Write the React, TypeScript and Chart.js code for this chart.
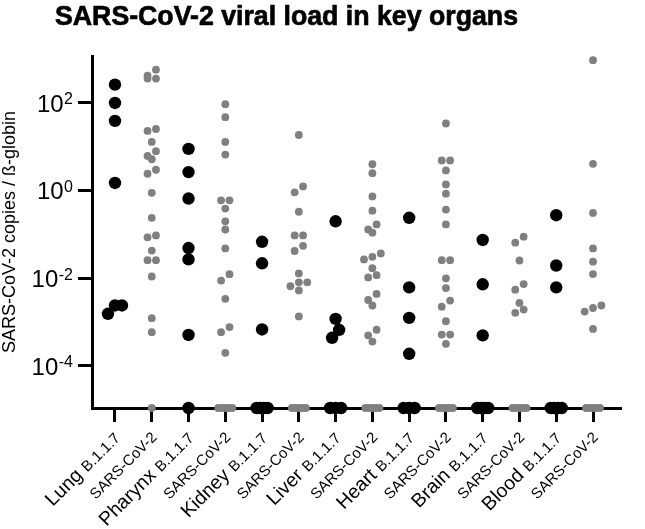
import React, { useEffect, useRef } from 'react';
import { Chart, registerables } from 'chart.js';

Chart.register(...registerables);

const chartTitle = 'SARS-CoV-2 viral load in key organs';
const yAxisTitle = 'SARS-CoV-2 copies / ß-globin';
const organs = ['Lung', 'Pharynx', 'Kidney', 'Liver', 'Heart', 'Brain', 'Blood'];
const variantName = 'B.1.1.7';
const wildTypeName = 'SARS-CoV-2';
const yTickValues = [1e-4, 1e-2, 1, 1e2];
const yMin = 1.1e-5;
const yMax = 1.18e3;
const belowDetection = 1.1e-5;

// B.1.1.7 (black) detected values per organ
const lungB117 = [263, 100, 39, 1.5, 0.0024, 0.0024, 0.00155];
const pharynxB117 = [8.96, 2.65, 0.66, 0.049, 0.027, 0.00051];
const kidneyB117 = [0.068, 0.022, 0.00068];
const liverB117 = [0.2, 0.00119, 0.00067, 0.00044];
const heartB117 = [0.24, 0.0062, 0.00125, 0.00019];
const brainB117 = [0.075, 0.0073, 0.0005];
const bloodB117 = [0.275, 0.0196, 0.0062];

// SARS-CoV-2 (grey) detected values per organ
const lungWT = [575, 420, 360, 360, 25.5, 23, 12.9, 7.95, 6.2, 5.2, 3.0, 2.43, 0.89, 0.24, 0.095, 0.086, 0.043, 0.026, 0.026, 0.011, 0.00123, 0.00059];
const pharynxWT = [94, 47.5, 12.9, 6.65, 0.6, 0.6, 0.39, 0.2, 0.13, 0.048, 0.0124, 0.0089, 0.0034, 0.00077, 0.00059, 0.0002];
const kidneyWT = [18.6, 1.25, 0.915, 0.33, 0.095, 0.095, 0.055, 0.042, 0.0129, 0.0081, 0.0081, 0.0066, 0.0053, 0.00135];
const liverWT = [4.0, 2.5, 0.74, 0.35, 0.17, 0.13, 0.11, 0.037, 0.031, 0.027, 0.017, 0.0118, 0.0105, 0.0044, 0.0032, 0.0024, 0.00067, 0.0005, 0.00036];
const heartWT = [34, 4.9, 4.9, 2.9, 1.39, 0.855, 0.37, 0.17, 0.026, 0.026, 0.01, 0.006, 0.0031, 0.00225, 0.00105, 0.00052, 0.00052, 0.00032];
const brainWT = [0.089, 0.065, 0.0255, 0.0074, 0.0055, 0.00275, 0.00194, 0.00163];
const bloodWT = [950, 4.1, 0.31, 0.048, 0.024, 0.0125, 0.0024, 0.0021, 0.00174, 0.0007];

// number of samples below detection (plotted on the axis)
const b117Undetected = [0, 1, 4, 3, 3, 4, 4];
const wtUndetected = [1, 5, 5, 5, 5, 5, 5];

const b117Values = [lungB117, pharynxB117, kidneyB117, liverB117, heartB117, brainB117, bloodB117];
const wtValues = [lungWT, pharynxWT, kidneyWT, liverWT, heartWT, brainWT, bloodWT];

const FONT = '"Liberation Sans", Arial, Helvetica, sans-serif';
const BLACK = '#000000';
const GREY = '#808080';

type Pt = { x: number; y: number };

function swarm(values: number[], col: number, ys: any, pxPerUnit: number, rowGap: number, spacing: number): Pt[] {
  const pts = values.map((v) => ({ v, py: ys.getPixelForValue(v) })).sort((a, b) => a.py - b.py);
  const out: Pt[] = [];
  let i = 0;
  while (i < pts.length) {
    let j = i + 1;
    while (j < pts.length && pts[j].py - pts[i].py < rowGap) j++;
    const row = pts.slice(i, j).sort((a, b) => b.py - a.py);
    row.forEach((p, k) => {
      out.push({ x: col + ((k - (row.length - 1) / 2) * spacing) / pxPerUnit, y: p.v });
    });
    i = j;
  }
  return out;
}

function band(count: number, col: number, pxPerUnit: number, span: number): Pt[] {
  return Array.from({ length: count }, (_, k) => ({
    x: col + (count > 1 ? (k / (count - 1) - 0.5) * span : 0) / pxPerUnit,
    y: belowDetection,
  }));
}

const textPlugin = {
  id: 'customText',
  afterDraw(chart: any) {
    const ctx = chart.ctx;
    const xs = chart.scales.x;
    const ys = chart.scales.y;
    ctx.save();
    ctx.fillStyle = '#000';
    ctx.strokeStyle = '#000';

    // title (fitted to the reference width, slightly heavier stroke)
    ctx.save();
    ctx.font = `bold 28px ${FONT}`;
    ctx.textAlign = 'left';
    ctx.textBaseline = 'alphabetic';
    const tw = ctx.measureText(chartTitle).width;
    const sx = 463 / tw;
    ctx.translate(55, 25);
    ctx.scale(sx, 1);
    ctx.lineWidth = 0.7;
    ctx.fillText(chartTitle, 0, 0);
    ctx.strokeText(chartTitle, 0, 0);
    ctx.restore();

    // y axis title
    ctx.save();
    ctx.translate(15, (chart.chartArea.top + chart.chartArea.bottom) / 2);
    ctx.rotate(-Math.PI / 2);
    ctx.font = `18px ${FONT}`;
    ctx.textAlign = 'center';
    ctx.fillText(yAxisTitle, 0, 0);
    ctx.restore();

    // y tick labels 10^n
    const labelRight = ys.right - 19;
    yTickValues.forEach((v) => {
      const py = ys.getPixelForValue(v);
      const exp = String(Math.round(Math.log10(v)));
      ctx.font = `16px ${FONT}`;
      ctx.textAlign = 'right';
      ctx.fillText(exp, labelRight, py + 1.5);
      const ew = ctx.measureText(exp).width;
      ctx.font = `24px ${FONT}`;
      ctx.fillText('10', labelRight - ew - 0.5, py + 8.6);
    });

    // x labels, rotated 45 degrees
    for (let i = 0; i < organs.length * 2; i++) {
      const px = xs.getPixelForValue(i);
      const isVariant = i % 2 === 0;
      const ax = px + 6;
      const ay = xs.top + (isVariant ? 31 : 30);
      ctx.save();
      ctx.translate(ax, ay);
      ctx.rotate(-Math.PI / 4);
      ctx.textAlign = 'right';
      ctx.textBaseline = 'alphabetic';
      ctx.font = `15px ${FONT}`;
      const small = isVariant ? variantName : wildTypeName;
      ctx.fillText(small, 0, 0);
      if (isVariant) {
        const w = ctx.measureText(small).width;
        ctx.font = `19.5px ${FONT}`;
        const sp = ctx.measureText(' ').width;
        ctx.fillText(organs[i / 2], -w - sp, 0);
      }
      ctx.restore();
    }
    ctx.restore();
  },
};

export default function App() {
  const ref = useRef<HTMLCanvasElement | null>(null);

  useEffect(() => {
    if (!ref.current) return;
    const columns = Array.from({ length: organs.length * 2 }, (_, i) => i);

    const initB117: Pt[] = b117Values.flatMap((vals, k) => vals.map((v) => ({ x: 2 * k, y: v })));
    const initWT: Pt[] = wtValues.flatMap((vals, k) => vals.map((v) => ({ x: 2 * k + 1, y: v })));
    const initB117U: Pt[] = b117Undetected.flatMap((n, k) => Array.from({ length: n }, () => ({ x: 2 * k, y: belowDetection })));
    const initWTU: Pt[] = wtUndetected.flatMap((n, k) => Array.from({ length: n }, () => ({ x: 2 * k + 1, y: belowDetection })));

    const chart = new Chart(ref.current, {
      type: 'scatter',
      data: {
        datasets: [
          { label: variantName, data: initB117, backgroundColor: BLACK, borderWidth: 0, pointRadius: 6.2, pointHoverRadius: 6.2, clip: false } as any,
          { label: wildTypeName, data: initWT, backgroundColor: GREY, borderWidth: 0, pointRadius: 3.9, pointHoverRadius: 3.9, clip: false } as any,
          { label: variantName + ' n.d.', data: initB117U, backgroundColor: BLACK, borderWidth: 0, pointRadius: 6.2, pointHoverRadius: 6.2, clip: false } as any,
          { label: wildTypeName + ' n.d.', data: initWTU, backgroundColor: GREY, borderWidth: 0, pointRadius: 3.9, pointHoverRadius: 3.9, clip: false } as any,
        ],
      },
      options: {
        responsive: false,
        animation: false,
        events: [],
        layout: { padding: { top: 56, right: 25, left: 0, bottom: 0 } },
        plugins: {
          legend: { display: false },
          title: { display: false },
          tooltip: { enabled: false },
        },
        scales: {
          x: {
            type: 'linear',
            min: -0.625,
            max: 13.734,
            afterBuildTicks: (s: any) => {
              s.ticks = columns.map((c) => ({ value: c }));
            },
            afterFit: (s: any) => {
              s.height = 121;
            },
            ticks: { display: false },
            grid: { drawOnChartArea: false, drawTicks: true, tickLength: 14, lineWidth: 3, color: BLACK },
            border: { display: true, width: 3, color: BLACK },
          },
          y: {
            type: 'logarithmic',
            min: yMin,
            max: yMax,
            afterBuildTicks: (s: any) => {
              s.ticks = yTickValues.map((v) => ({ value: v }));
            },
            afterFit: (s: any) => {
              s.width = 92;
            },
            ticks: { display: false },
            grid: { drawOnChartArea: false, drawTicks: true, tickLength: 14, lineWidth: 3, color: BLACK },
            border: { display: true, width: 3, color: BLACK },
          },
        },
      } as any,
      plugins: [textPlugin],
    });

    // beeswarm layout of the points, computed from the chart's own scales
    const xs: any = chart.scales.x;
    const ys: any = chart.scales.y;
    const pxPerUnit = xs.getPixelForValue(1) - xs.getPixelForValue(0);
    chart.data.datasets[0].data = b117Values.flatMap((vals, k) => swarm(vals, 2 * k, ys, pxPerUnit, 9, 7)) as any;
    chart.data.datasets[1].data = wtValues.flatMap((vals, k) => swarm(vals, 2 * k + 1, ys, pxPerUnit, 6.5, 8.4)) as any;
    chart.data.datasets[2].data = b117Undetected.flatMap((n, k) => band(n, 2 * k, pxPerUnit, 11)) as any;
    chart.data.datasets[3].data = wtUndetected.flatMap((n, k) => band(n, 2 * k + 1, pxPerUnit, 14)) as any;
    chart.update();

    return () => chart.destroy();
  }, []);

  return (
    <div style={{ position: 'fixed', left: 0, top: 0, width: 645, height: 529, background: '#fff' }}>
      <canvas ref={ref} width={645} height={529} style={{ display: 'block' }} />
    </div>
  );
}
